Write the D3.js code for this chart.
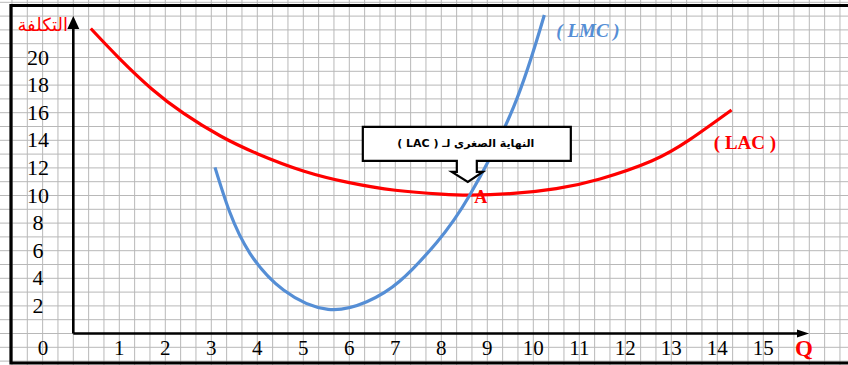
<!DOCTYPE html>
<html>
<head>
<meta charset="utf-8">
<script src="https://cdn.jsdelivr.net/npm/d3@7"></script>
<style>
  body { margin: 0; background: #fff; }
  svg { display: block; }
</style>
</head>
<body>
<div id="chart"></div>
<script>
// Values
const lacQ = [0.38, 1.0, 1.7, 2.4, 3.2, 4.0, 5.0, 6.0, 7.0, 8.0, 8.62, 9.5, 10.5, 11.45, 12.57, 13.4, 14.31];
const lacC = [22.1, 19.94, 17.74, 15.95, 14.31, 13.03, 11.78, 10.93, 10.38, 10.1, 10.03, 10.13, 10.5, 11.2, 12.5, 14.05, 16.2];
const lmcQ = [3.08, 3.4, 3.84, 4.57, 5.54, 6.38, 7.1, 7.9, 8.62, 9.57, 10.24];
const lmcC = [12.04, 8.8, 5.81, 3.15, 1.75, 2.3, 3.8, 6.6, 10.04, 16.4, 23.08];
const xTicks = [1, 2, 3, 4, 5, 6, 7, 8, 9, 10, 11, 12, 13, 14, 15];
const yTicks = [2, 4, 6, 8, 10, 12, 14, 16, 18, 20];
const minPoint = {q: 8.62, c: 10.04};

const width = 848, height = 365;

const svg = d3.select("#chart")
    .append("svg")
    .attr("width", width)
    .attr("height", height);

// scales: 46px per unit of Q, 13.8px per unit of cost
const x = d3.scaleLinear().domain([0, 16]).range([73.3, 73.3 + 46 * 16]);
const y = d3.scaleLinear().domain([0, 24]).range([333.5, 333.5 - 13.8 * 24]);

// squared paper background
svg.append("g")
    .selectAll("line")
    .data(d3.range(-5, 55).map(k => x(k / 3)))
    .join("line")
    .attr("x1", d => d).attr("x2", d => d)
    .attr("y1", 0).attr("y2", height)
    .style("stroke", "#b8b8b8")
    .style("stroke-width", 1);

svg.append("g")
    .selectAll("line")
    .data(d3.range(-3, 25))
    .join("line")
    .attr("x1", 0).attr("x2", width)
    .attr("y1", d => y(d)).attr("y2", d => y(d))
    .style("stroke", "#b8b8b8")
    .style("stroke-width", 1);

// page frame
svg.append("path")
    .attr("d", `M${width},5.5 H11 V363 H${width}`)
    .style("fill", "none")
    .style("stroke", "black")
    .style("stroke-width", 3.2);

// axes with arrow heads
const x0 = x(0), y0 = y(0);
svg.append("path")
    .attr("d", `M${x0},${y0} H798 M${x0},${y0} V27`)
    .style("fill", "none")
    .style("stroke", "black")
    .style("stroke-width", 2.6);

svg.append("path")
    .attr("d", `M797,${y0 - 4} L809,${y0} L797,${y0 + 4} Z`)
    .style("fill", "black");
svg.append("path")
    .attr("d", `M${x0 - 6},29 L${x0},16 L${x0 + 6},29 Z`)
    .style("fill", "black");

// tick labels
svg.append("g")
    .selectAll("text")
    .data(xTicks)
    .join("text")
    .attr("x", d => x(d))
    .attr("y", 355)
    .attr("text-anchor", "middle")
    .style("font-family", "'Liberation Serif', serif")
    .style("font-size", "21px")
    .text(d => d);

svg.append("g")
    .selectAll("text")
    .data(yTicks)
    .join("text")
    .attr("x", 38)
    .attr("y", d => y(d) + 7)
    .attr("text-anchor", "middle")
    .style("font-family", "'Liberation Serif', serif")
    .style("font-size", "22px")
    .text(d => d);

svg.append("text")
    .attr("x", 43)
    .attr("y", 355)
    .attr("text-anchor", "middle")
    .style("font-family", "'Liberation Serif', serif")
    .style("font-size", "21px")
    .text("0");

// axis titles
svg.append("text")
    .attr("x", 68)
    .attr("y", 31)
    .attr("text-anchor", "end")
    .style("font-family", "'DejaVu Sans', sans-serif")
    .style("font-size", "18px")
    .style("fill", "red")
    .text("التكلفة");

svg.append("text")
    .attr("x", 804)
    .attr("y", 356)
    .attr("text-anchor", "middle")
    .style("font-family", "'Liberation Serif', serif")
    .style("font-weight", "bold")
    .style("font-size", "23px")
    .style("fill", "red")
    .text("Q");

// curves
const line = d3.line()
    .x(d => x(d[0]))
    .y(d => y(d[1]))
    .curve(d3.curveNatural);

svg.append("path")
    .datum(d3.zip(lacQ, lacC))
    .attr("d", line)
    .style("fill", "none")
    .style("stroke", "#ff0000")
    .style("stroke-width", 3.2);

svg.append("path")
    .datum(d3.zip(lmcQ, lmcC))
    .attr("d", line)
    .style("fill", "none")
    .style("stroke", "#558ed5")
    .style("stroke-width", 3.2);

// curve labels
svg.append("text")
    .attr("x", 588)
    .attr("y", 37)
    .attr("text-anchor", "middle")
    .style("font-family", "'Liberation Serif', serif")
    .style("font-weight", "bold")
    .style("font-style", "italic")
    .style("font-size", "19px")
    .style("fill", "#558ed5")
    .text("( LMC )");

svg.append("text")
    .attr("x", 745)
    .attr("y", 149)
    .attr("text-anchor", "middle")
    .style("font-family", "'Liberation Serif', serif")
    .style("font-weight", "bold")
    .style("font-size", "19px")
    .style("fill", "red")
    .text("( LAC )");

// point A and callout
const ax = x(minPoint.q), ay = y(minPoint.c);

svg.append("text")
    .attr("x", ax + 11)
    .attr("y", ay + 8)
    .attr("text-anchor", "middle")
    .style("font-family", "'Liberation Serif', serif")
    .style("font-weight", "bold")
    .style("font-size", "18px")
    .style("fill", "red")
    .text("A");

const callout = d3.path();
callout.moveTo(ax - 107, ay - 68);
callout.lineTo(ax + 101, ay - 68);
callout.lineTo(ax + 101, ay - 34);
callout.lineTo(ax + 7, ay - 34);
callout.lineTo(ax + 7, ay - 23);
callout.lineTo(ax + 13, ay - 23);
callout.lineTo(ax - 2, ay - 13);
callout.lineTo(ax - 18, ay - 23);
callout.lineTo(ax - 13, ay - 23);
callout.lineTo(ax - 13, ay - 34);
callout.lineTo(ax - 107, ay - 34);
callout.closePath();

svg.append("path")
    .attr("d", callout.toString())
    .style("fill", "white")
    .style("stroke", "black")
    .style("stroke-width", 2.2);

svg.append("text")
    .attr("x", ax - 4)
    .attr("y", ay - 48)
    .attr("text-anchor", "middle")
    .style("direction", "rtl")
    .style("font-family", "'DejaVu Sans', sans-serif")
    .style("font-weight", "bold")
    .style("font-size", "11px")
    .text("النهاية الصغرى لـ ( LAC )");
</script>
</body>
</html>
